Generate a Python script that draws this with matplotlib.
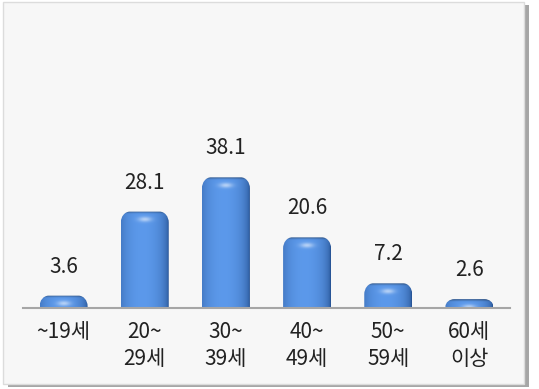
import numpy as np
import matplotlib.pyplot as plt
from matplotlib.path import Path
from matplotlib.patches import PathPatch, Rectangle

plt.rcParams['font.family'] = ['Noto Sans CJK KR', 'DejaVu Sans']

ages = ['~19세', '20~\n29세', '30~\n39세', '40~\n49세', '50~\n59세', '60세\n이상']
shares = [3.6, 28.1, 38.1, 20.6, 7.2, 2.6]

W, H = 539, 389
PX_PER_UNIT = 3.43   # vertical pixels per percent
PX_PER_CAT = 81.2    # horizontal pixels per category

fig = plt.figure(figsize=(W / 100, H / 100), dpi=100)

# panel with a grey drop shadow
fig.patches.append(Rectangle((8 / W, 2 / H), 521 / W, 382 / H, transform=fig.transFigure,
                             facecolor='#a6a6a6', edgecolor='none', zorder=-2))
fig.patches.append(Rectangle((3 / W, 5 / H), 521 / W, 382 / H, transform=fig.transFigure,
                             facecolor='#f7f7f7', edgecolor='#dcdcdc', lw=1, zorder=-1))

ax = fig.add_axes([23 / W, 81 / H, 487 / W, 278 / H])
ax.set_facecolor('none')
ax.set_zorder(5)


def rounded_bar(x0, x1, h, rx, ry):
    k = 0.5523
    verts = [(x0, 0), (x0, h - ry),
             (x0, h - ry + k * ry), (x0 + rx - k * rx, h), (x0 + rx, h),
             (x1 - rx, h),
             (x1 - rx + k * rx, h), (x1, h - ry + k * ry), (x1, h - ry),
             (x1, 0), (x0, 0)]
    codes = [Path.MOVETO, Path.LINETO,
             Path.CURVE4, Path.CURVE4, Path.CURVE4,
             Path.LINETO,
             Path.CURVE4, Path.CURVE4, Path.CURVE4,
             Path.LINETO, Path.CLOSEPOLY]
    return Path(verts, codes)


def bar_shading(h):
    # horizontal cylinder shading, a darker rim on the cap and a soft highlight below it
    ncols = 96
    nrows = max(int(h * PX_PER_UNIT * 2), 6)
    t = np.linspace(-1, 1, ncols)
    ypx = np.linspace(0, h * PX_PER_UNIT, nrows)
    f = np.clip(1 - ((t + 0.1) / 1.1) ** 2, 0, 1) ** 0.45
    dark = np.array([0.13, 0.30, 0.55])
    light = np.array([0.36, 0.60, 0.92])
    row = dark + (light - dark) * f[:, None]
    img = np.repeat(row[None, :, :], nrows, axis=0)
    rim = np.exp(-(ypx / 1.5) ** 2)
    img = img * (1 - 0.35 * rim[:, None, None])
    spot = np.exp(-(t[None, :] / 0.28) ** 2 - ((ypx[:, None] - 8) / 2.5) ** 2)
    img = img + (1 - img) * 0.55 * spot[:, :, None]
    return np.clip(img, 0, 1)


bw = 48 / PX_PER_CAT
for i, v in enumerate(shares):
    x0, x1 = i - bw / 2, i + bw / 2
    rx = 9 / PX_PER_CAT
    ry = min(11 / PX_PER_UNIT, v * 0.85)
    patch = PathPatch(rounded_bar(x0, x1, v, rx, ry), facecolor='none', edgecolor='none')
    ax.add_patch(patch)
    im = ax.imshow(bar_shading(v), extent=(x0, x1, 0, v), origin='upper',
                   aspect='auto', interpolation='bilinear', zorder=2)
    im.set_clip_path(patch)
    ax.annotate(f'{v}', (i, v), xytext=(0, 29), textcoords='offset pixels',
                ha='center', va='center', fontsize=15, color='#222222')

ax.set_xlim(-0.5, 5.5)
ax.set_ylim(0, 278 / PX_PER_UNIT)
ax.set_xticks(range(len(ages)))
ax.set_xticklabels(ages, fontsize=15, color='#222222', linespacing=1.3)
ax.tick_params(axis='x', length=0, pad=9)
ax.set_yticks([])
for side in ['top', 'left', 'right']:
    ax.spines[side].set_visible(False)
ax.spines['bottom'].set_color('#a6a6a6')
ax.spines['bottom'].set_linewidth(1.5)
ax.spines['bottom'].set_zorder(3)

fig.savefig('out.png', dpi=100)
